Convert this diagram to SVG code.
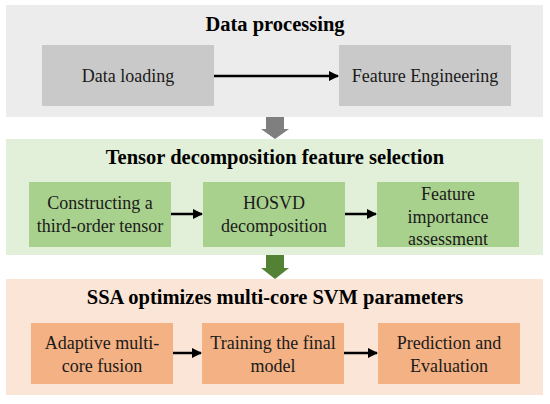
<svg xmlns="http://www.w3.org/2000/svg" width="550" height="404" viewBox="0 0 550 404">
<style>
.t{font-family:"Liberation Serif","Times New Roman",serif;font-weight:bold;font-size:20.5px;fill:#000;text-anchor:middle}
.l{font-family:"Liberation Serif","Times New Roman",serif;font-size:18px;fill:#1a1a1a;text-anchor:middle}
.c{stroke:#000;stroke-width:2.5;fill:none;marker-end:url(#ah)}
</style>
<defs>
<marker id="ah" markerWidth="10" markerHeight="10" viewBox="0 0 10 10" refX="9" refY="5" orient="auto" markerUnits="userSpaceOnUse">
<path d="M0,0 L10,5 L0,10 z" fill="#000"/>
</marker>
</defs>
<rect width="550" height="404" fill="#fff"/>
<g id="panel-data">
<rect x="6" y="5" width="537" height="112" fill="#ececec"/>
<text class="t" x="275" y="31">Data processing</text>
</g>
<g id="panel-tensor">
<rect x="6" y="139" width="537" height="116" fill="#e2efd9"/>
<text class="t" x="275" y="164">Tensor decomposition feature selection</text>
</g>
<g id="panel-ssa">
<rect x="6" y="279" width="537" height="116" fill="#fbe5d6"/>
<text class="t" x="275" y="304">SSA optimizes multi-core SVM parameters</text>
</g>
<g id="n-loading">
<rect x="42" y="45" width="172" height="61" fill="#c9c9c9"/>
<text class="l" x="128" y="82">Data loading</text>
</g>
<g id="n-feature">
<rect x="339" y="45" width="172" height="61" fill="#c9c9c9"/>
<text class="l" x="425" y="82">Feature Engineering</text>
</g>
<g id="n-construct">
<rect x="29" y="182" width="142" height="65" fill="#a9d18e"/>
<text class="l" x="100" y="209">Constructing a</text>
<text class="l" x="100" y="232">third-order tensor</text>
</g>
<g id="n-hosvd">
<rect x="203" y="182" width="142" height="65" fill="#a9d18e"/>
<text class="l" x="274" y="209">HOSVD</text>
<text class="l" x="274" y="232">decomposition</text>
</g>
<g id="n-importance">
<rect x="377" y="182" width="142" height="65" fill="#a9d18e"/>
<text class="l" x="448" y="200">Feature</text>
<text class="l" x="448" y="223">importance</text>
<text class="l" x="448" y="245">assessment</text>
</g>
<g id="n-adaptive">
<rect x="31" y="323" width="142" height="61" fill="#f4b183"/>
<text class="l" x="102" y="349">Adaptive multi-</text>
<text class="l" x="102" y="372">core fusion</text>
</g>
<g id="n-training">
<rect x="202" y="323" width="142" height="61" fill="#f4b183"/>
<text class="l" x="273" y="349">Training the final</text>
<text class="l" x="273" y="372">model</text>
</g>
<g id="n-prediction">
<rect x="378" y="323" width="142" height="61" fill="#f4b183"/>
<text class="l" x="449" y="349">Prediction and</text>
<text class="l" x="449" y="372">Evaluation</text>
</g>
<g id="connectors">
<line class="c" x1="214" y1="76" x2="338" y2="76"/>
<line class="c" x1="171" y1="214" x2="202" y2="214"/>
<line class="c" x1="345" y1="214" x2="376" y2="214"/>
<line class="c" x1="173" y1="353" x2="201" y2="353"/>
<line class="c" x1="344" y1="353" x2="377" y2="353"/>
<path d="M266,117 H284 V129 H289 L275,139 L261,129 H266 Z" fill="#7f7f7f"/>
<path d="M266,255 H284 V268 H289 L275,279 L261,268 H266 Z" fill="#548235"/>
</g>
</svg>
